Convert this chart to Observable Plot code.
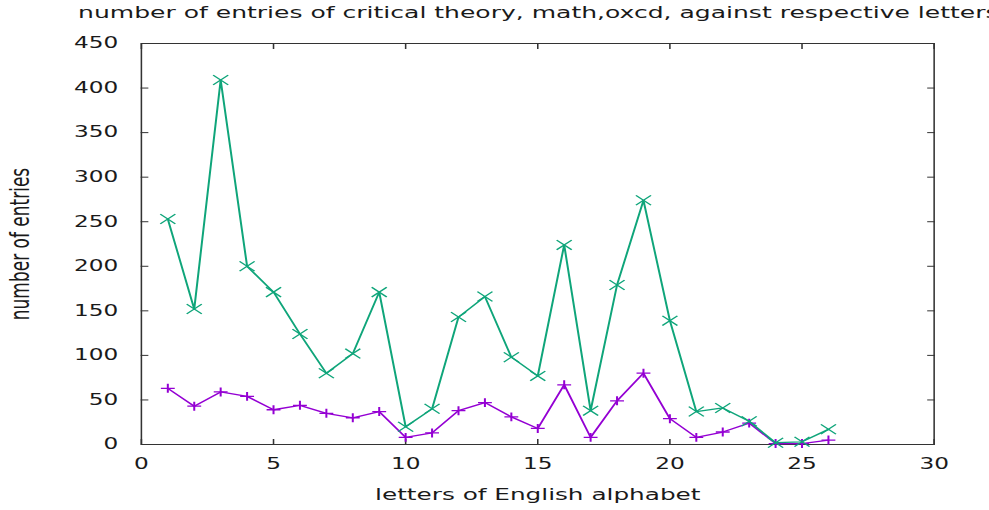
<!DOCTYPE html>
<html>
<head>
<meta charset="utf-8">
<script src="https://cdn.jsdelivr.net/npm/d3@7"></script>
<script src="https://cdn.jsdelivr.net/npm/@observablehq/plot@0.6"></script>
<style>
  html, body { margin: 0; padding: 0; background: #fff; overflow: hidden; }
  #chart { width: 989px; height: 510px; overflow: hidden; }
</style>
</head>
<body>
<div id="chart"></div>
<script>
// Letters of the alphabet, numbered 1..26
const letters = d3.range(1, 27);

// Entries per starting letter
const oxcdEntries = [253, 152, 409, 200, 171, 124, 80, 102, 171, 20, 40, 143, 166, 98, 77, 224, 38, 179, 274, 139, 37, 41, 26, 2, 3, 17];
const mathEntries = [63, 43, 59, 54, 39, 44, 35, 30, 37, 8, 13, 38, 47, 31, 18, 67, 8, 49, 80, 29, 8, 14, 24, 1, 1, 5];

const xTicks = [0, 5, 10, 15, 20, 25, 30];
const yTicks = [0, 50, 100, 150, 200, 250, 300, 350, 400, 450];

const titleText = "number of entries of critical theory, math,oxcd, against respective letters";
const xLabelText = "letters of English alphabet";
const yLabelText = "number of entries";

const oxcd = letters.map((x, i) => ({x, y: oxcdEntries[i]}));
const math = letters.map((x, i) => ({x, y: mathEntries[i]}));

// The plot is laid out on a 640-wide canvas and then stretched to 989 wide.
const W = 640, H = 510;
const ink = "#1a1a1a";

const svg = Plot.plot({
  width: W,
  height: H,
  marginLeft: 91,
  marginRight: 36,
  marginTop: 43,
  marginBottom: 66,
  style: {fontFamily: "DejaVu Sans", fontSize: "15px", color: ink, background: "#fff", overflow: "hidden"},
  x: {domain: [0, 30]},
  y: {domain: [0, 450]},
  marks: [
    Plot.frame({stroke: "#333"}),
    Plot.axisX(xTicks, {anchor: "bottom", tickSize: -5, tickPadding: 19, label: null, stroke: "#333", fill: ink}),
    Plot.axisX(xTicks, {anchor: "top", tickSize: -5, tickFormat: () => "", label: null, stroke: "#333"}),
    Plot.axisY(yTicks, {anchor: "left", tickSize: -5, tickPadding: 20, label: null, stroke: "#333", fill: ink}),
    Plot.axisY(yTicks, {anchor: "right", tickSize: -5, tickFormat: () => "", label: null, stroke: "#333"}),
    Plot.line(math, {x: "x", y: "y", stroke: "#9400d3", strokeWidth: 1.3}),
    Plot.dot(math, {x: "x", y: "y", symbol: "plus", r: 3, stroke: "#9400d3", strokeWidth: 1.3}),
    Plot.line(oxcd, {x: "x", y: "y", stroke: "#0fa57a", strokeWidth: 1.3}),
    Plot.dot(oxcd, {x: "x", y: "y", symbol: "times", r: 4.5, stroke: "#0fa57a", strokeWidth: 1.1}),
    Plot.text([titleText], {text: d => d, frameAnchor: "top-left", textAnchor: "start", dx: -41, dy: -37, fill: ink, fontSize: 16.2}),
    Plot.text([xLabelText], {text: d => d, frameAnchor: "bottom", dy: 55, fill: ink, fontSize: 16}),
    Plot.text([yLabelText], {text: d => d, frameAnchor: "left", textAnchor: "middle", rotate: -90, dx: -78, fill: ink, fontSize: 17})
  ]
});

svg.setAttribute("width", 989);
svg.setAttribute("height", H);
svg.setAttribute("viewBox", `0 0 ${W} ${H}`);
svg.setAttribute("preserveAspectRatio", "none");
svg.style.width = "989px";
svg.style.height = H + "px";
svg.style.maxWidth = "none";
document.getElementById("chart").appendChild(svg);
</script>
</body>
</html>
